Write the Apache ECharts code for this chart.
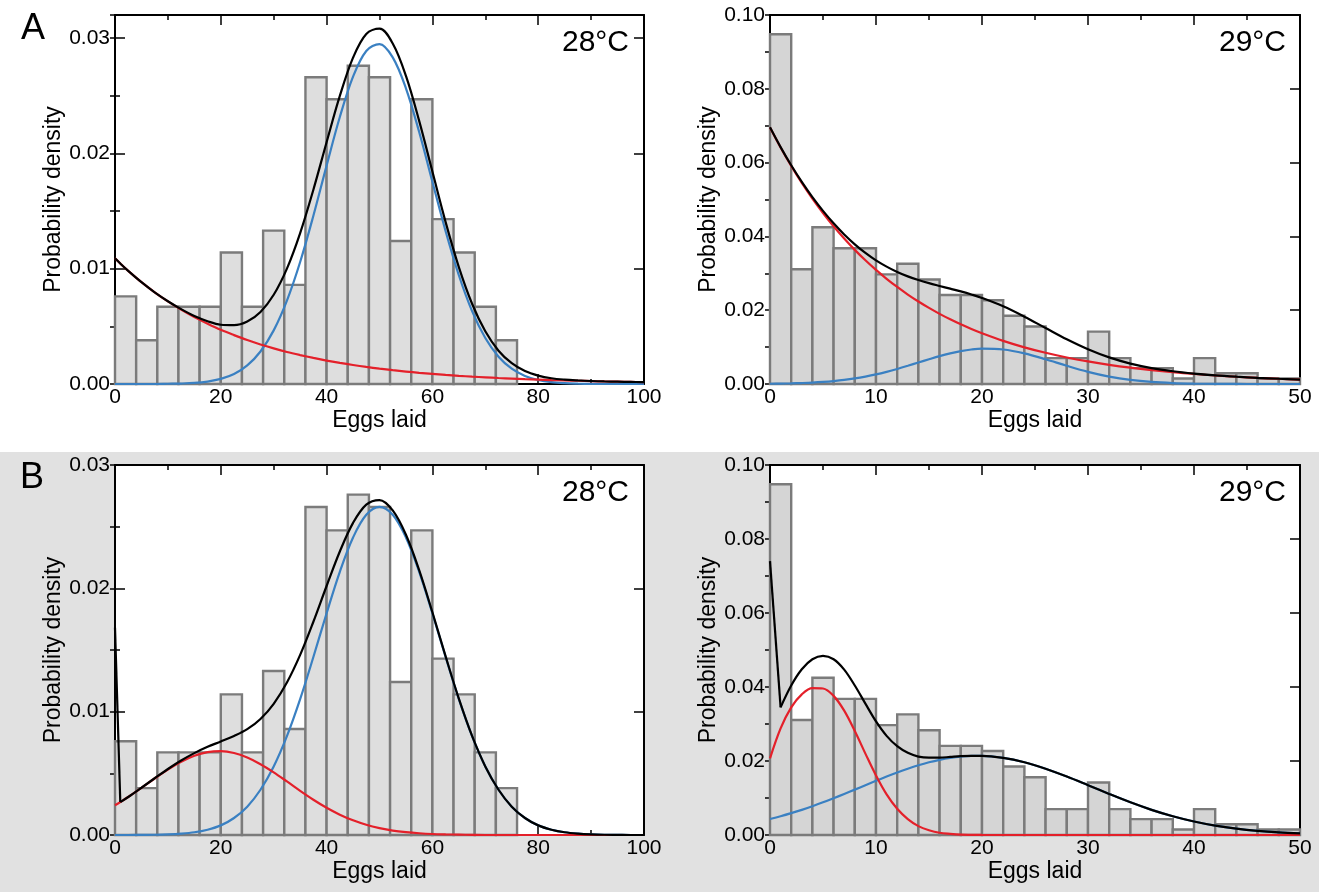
<!DOCTYPE html>
<html>
<head>
<meta charset="utf-8">
<script src="https://cdn.jsdelivr.net/npm/echarts@6/dist/echarts.min.js"></script>
<style>
html, body { margin: 0; padding: 0; background: #fff; }
#main { width: 1319px; height: 892px; }
</style>
</head>
<body>
<div id="main"></div>
<script>
// histogram at 28°C: left edge of each 4-egg bin and its density
var binStart28 = [0, 4, 8, 12, 16, 20, 24, 28, 32, 36, 40, 44, 48, 52, 56, 60, 64, 68, 72];
var binWidth28 = 4;
var density28 = [0.0076, 0.0038, 0.0067, 0.0067, 0.0067, 0.0114, 0.0067, 0.0133, 0.0086, 0.0266,
                 0.0247, 0.0276, 0.0266, 0.0124, 0.0247, 0.0143, 0.0114, 0.0067, 0.0038];

// histogram at 29°C: 2-egg bins
var binStart29 = [0, 2, 4, 6, 8, 10, 12, 14, 16, 18, 20, 22, 24, 26, 28, 30, 32, 34, 36, 38, 40, 42, 44, 46, 48];
var binWidth29 = 2;
var density29 = [0.0948, 0.0311, 0.0425, 0.0368, 0.0368, 0.0297, 0.0326, 0.0283, 0.0241, 0.0241,
                 0.0227, 0.0185, 0.0156, 0.0070, 0.0070, 0.0142, 0.0070, 0.0043, 0.0043, 0.0015,
                 0.0070, 0.0029, 0.0029, 0.0015, 0.0015];

// x positions where the fitted curves are read (28°C panels)
var eggs100 = [0, 1, 2.5, 5, 7.5, 10, 12.5, 15, 17.5, 20, 22.5, 25, 27.5, 30, 32.5, 35, 37.5, 40,
               42.5, 45, 47.5, 50, 52.5, 55, 57.5, 60, 62.5, 65, 67.5, 70, 72.5, 75, 77.5, 80,
               82.5, 85, 87.5, 90, 92.5, 95, 97.5, 100];

// A, 28°C
var a28Red = [0.01090, 0.01045, 0.00981, 0.00883, 0.00795, 0.00716, 0.00645, 0.00580, 0.00523, 0.00470,
              0.00424, 0.00381, 0.00343, 0.00309, 0.00278, 0.00251, 0.00226, 0.00203, 0.00183, 0.00165,
              0.00148, 0.00133, 0.00120, 0.00108, 0.00097, 0.00088, 0.00079, 0.00071, 0.00064, 0.00058,
              0.00052, 0.00047, 0.00042, 0.00038, 0.00034, 0.00031, 0.00028, 0.00025, 0.00022, 0.00020,
              0.00018, 0.00016];
var a28Blue = [0, 0, 0, 0, 0, 0.00002, 0.00004, 0.00009, 0.00021, 0.00044,
               0.00086, 0.00161, 0.00282, 0.00465, 0.00723, 0.01058, 0.01459, 0.01894, 0.02315, 0.02665,
               0.02888, 0.02948, 0.02833, 0.02564, 0.02185, 0.01754, 0.01325, 0.00943, 0.00632, 0.00399,
               0.00237, 0.00133, 0.00070, 0.00035, 0.00016, 0.00007, 0.00003, 0.00001, 0, 0,
               0, 0];
var a28Total = [0.01090, 0.01045, 0.00981, 0.00883, 0.00795, 0.00718, 0.00649, 0.00589, 0.00544, 0.00514,
                0.00510, 0.00542, 0.00625, 0.00774, 0.01001, 0.01309, 0.01685, 0.02097, 0.02498, 0.02830,
                0.03036, 0.03081, 0.02953, 0.02672, 0.02282, 0.01842, 0.01404, 0.01014, 0.00696, 0.00457,
                0.00289, 0.00180, 0.00112, 0.00073, 0.00050, 0.00038, 0.00031, 0.00026, 0.00022, 0.00020,
                0.00018, 0.00016];

// B, 28°C
var b28Red = [0.00241, 0.00267, 0.00308, 0.00382, 0.00458, 0.00530, 0.00593, 0.00642, 0.00672, 0.00680,
              0.00665, 0.00628, 0.00574, 0.00508, 0.00434, 0.00358, 0.00286, 0.00221, 0.00165, 0.00119,
              0.00083, 0.00056, 0.00036, 0.00023, 0.00014, 0.00008, 0.00005, 0.00003, 0.00001, 0,
              0, 0, 0, 0, 0, 0, 0, 0, 0, 0,
              0, 0];
var b28Blue = [0, 0, 0, 0.00001, 0.00002, 0.00005, 0.00011, 0.00022, 0.00043, 0.00078,
               0.00138, 0.00230, 0.00367, 0.00556, 0.00802, 0.01102, 0.01443, 0.01798, 0.02134, 0.02412,
               0.02596, 0.02660, 0.02596, 0.02412, 0.02134, 0.01798, 0.01443, 0.01102, 0.00802, 0.00556,
               0.00367, 0.00230, 0.00138, 0.00078, 0.00043, 0.00022, 0.00011, 0.00005, 0.00002, 0.00001,
               0, 0];
var b28Total = [0.01680, 0.00267, 0.00308, 0.00383, 0.00460, 0.00535, 0.00604, 0.00664, 0.00715, 0.00758,
                0.00803, 0.00858, 0.00941, 0.01064, 0.01236, 0.01460, 0.01729, 0.02019, 0.02299, 0.02531,
                0.02679, 0.02716, 0.02632, 0.02435, 0.02148, 0.01806, 0.01448, 0.01105, 0.00803, 0.00556,
                0.00367, 0.00230, 0.00138, 0.00078, 0.00043, 0.00022, 0.00011, 0.00005, 0.00002, 0.00001,
                0, 0];

// x positions for the 29°C panels
var eggs50 = [0, 1, 2, 3, 4, 5, 6, 7, 8, 9, 10, 11, 12, 13, 14, 15, 16, 17, 18, 19, 20,
              22, 24, 26, 28, 30, 32, 34, 36, 38, 40, 42, 44, 46, 48, 50];

// A, 29°C
var a29Red = [0.06950, 0.06409, 0.05910, 0.05450, 0.05026, 0.04635, 0.04274, 0.03942, 0.03635, 0.03352,
              0.03091, 0.02851, 0.02629, 0.02424, 0.02236, 0.02062, 0.01901, 0.01753, 0.01617, 0.01491,
              0.01375, 0.01169, 0.00994, 0.00846, 0.00719, 0.00612, 0.00520, 0.00442, 0.00376, 0.00320,
              0.00272, 0.00231, 0.00197, 0.00167, 0.00142, 0.00121];
var a29Blue = [0.00007, 0.00011, 0.00017, 0.00026, 0.00038, 0.00056, 0.00080, 0.00111, 0.00151, 0.00201,
               0.00260, 0.00330, 0.00408, 0.00493, 0.00582, 0.00671, 0.00756, 0.00830, 0.00892, 0.00935,
               0.00957, 0.00935, 0.00830, 0.00671, 0.00493, 0.00330, 0.00201, 0.00111, 0.00056, 0.00026,
               0.00011, 0.00004, 0.00001, 0, 0, 0];
var a29Total = [0.06957, 0.06420, 0.05927, 0.05476, 0.05064, 0.04691, 0.04354, 0.04053, 0.03786, 0.03553,
                0.03351, 0.03181, 0.03037, 0.02917, 0.02818, 0.02733, 0.02657, 0.02583, 0.02509, 0.02426,
                0.02332, 0.02104, 0.01824, 0.01517, 0.01212, 0.00942, 0.00721, 0.00553, 0.00432, 0.00346,
                0.00283, 0.00235, 0.00198, 0.00167, 0.00142, 0.00121];

// B, 29°C
var b29Red = [0.0207, 0.0288, 0.0345, 0.0380, 0.0397, 0.0396, 0.0376, 0.0336, 0.0281, 0.0220,
              0.0161, 0.0110, 0.0071, 0.0043, 0.0024, 0.0013, 0.0006, 0.0003, 0.0001, 0.00005,
              0.00002, 0, 0, 0, 0, 0, 0, 0, 0, 0,
              0, 0, 0, 0, 0, 0];
var b29Blue = [0.00432, 0.00507, 0.00590, 0.00680, 0.00779, 0.00883, 0.00994, 0.01109, 0.01226, 0.01346,
               0.01464, 0.01579, 0.01689, 0.01791, 0.01884, 0.01965, 0.02032, 0.02084, 0.02120, 0.02138,
               0.02138, 0.02084, 0.01965, 0.01791, 0.01579, 0.01346, 0.01109, 0.00883, 0.00680, 0.00507,
               0.00365, 0.00254, 0.00171, 0.00111, 0.00070, 0.00043];
var b29Total = [0.0740, 0.0345, 0.0404, 0.0448, 0.0475, 0.0484, 0.0475, 0.0447, 0.0404, 0.0355,
                0.0307, 0.0268, 0.0240, 0.0222, 0.0212, 0.0209, 0.0209, 0.0211, 0.0213, 0.0214,
                0.0214, 0.02084, 0.01965, 0.01791, 0.01579, 0.01346, 0.01109, 0.00883, 0.00680, 0.00507,
                0.00365, 0.00254, 0.00171, 0.00111, 0.00070, 0.00043];

var panels = [
    {temp: '28°C', bins: binStart28, bw: binWidth28, dens: density28, eggs: eggs100,
     red: a28Red, blue: a28Blue, total: a28Total, xMax: 100, xStep: 20, yMax: 0.032, yStep: 0.01, spike: false},
    {temp: '29°C', bins: binStart29, bw: binWidth29, dens: density29, eggs: eggs50,
     red: a29Red, blue: a29Blue, total: a29Total, xMax: 50, xStep: 10, yMax: 0.10, yStep: 0.02, spike: false},
    {temp: '28°C', bins: binStart28, bw: binWidth28, dens: density28, eggs: eggs100,
     red: b28Red, blue: b28Blue, total: b28Total, xMax: 100, xStep: 20, yMax: 0.03, yStep: 0.01, spike: true},
    {temp: '29°C', bins: binStart29, bw: binWidth29, dens: density29, eggs: eggs50,
     red: b29Red, blue: b29Blue, total: b29Total, xMax: 50, xStep: 10, yMax: 0.10, yStep: 0.02, spike: true}
];

// layout of the four plot boxes
var boxes = [
    {left: 115, top: 15, width: 529, height: 369, fill: '#dedede'},
    {left: 770, top: 15, width: 530, height: 369, fill: '#d5d5d5'},
    {left: 115, top: 465, width: 529, height: 370, fill: '#dedede'},
    {left: 770, top: 465, width: 530, height: 370, fill: '#d5d5d5'}
];

var FONT = '"Liberation Sans", Arial, sans-serif';
var RED = '#e4202a', BLUE = '#3a80c2';

function fmtY(v) {
    var k = Math.round(v * 100);
    return Math.abs(v * 100 - k) < 1e-6 ? v.toFixed(2) : '';
}
function pairs(xs, ys) {
    return xs.map(function (x, i) { return [x, ys[i]]; });
}

var grids = [], xAxes = [], yAxes = [], series = [];
var line = {color: '#000', width: 2};
var tick = {color: '#000', width: 1.5};

panels.forEach(function (p, g) {
    var b = boxes[g];
    grids.push({left: b.left, top: b.top, width: b.width, height: b.height,
                show: true, backgroundColor: '#fff', borderWidth: 0});

    ['bottom', 'top'].forEach(function (pos) {
        var ax = {
            gridIndex: g, type: 'value', min: 0, max: p.xMax, interval: p.xStep, position: pos,
            axisLine: {onZero: false, lineStyle: line},
            axisTick: {inside: true, length: 10, lineStyle: tick},
            minorTick: {show: true, splitNumber: 2, length: 5, lineStyle: tick},
            splitLine: {show: false}, minorSplitLine: {show: false},
            axisLabel: {show: false}
        };
        if (pos === 'bottom') {
            ax.axisLabel = {show: true, fontSize: 21, color: '#000', margin: 3, fontFamily: FONT};
            ax.name = 'Eggs laid';
            ax.nameLocation = 'middle';
            ax.nameGap = 22;
            ax.nameTextStyle = {fontSize: 23, color: '#000', fontFamily: FONT};
        }
        xAxes.push(ax);
    });

    ['left', 'right'].forEach(function (pos) {
        // major ticks
        var major = {
            gridIndex: g, type: 'value', min: 0, max: p.yMax, interval: p.yStep, position: pos,
            axisLine: {show: true, onZero: false, lineStyle: line},
            axisTick: {inside: true, length: 10, lineStyle: tick},
            splitLine: {show: false},
            axisLabel: {show: false}
        };
        if (pos === 'left') {
            major.axisLabel = {show: true, fontSize: 21, color: '#000', margin: 5, fontFamily: FONT, formatter: fmtY};
            major.name = 'Probability density';
            major.nameLocation = 'middle';
            major.nameGap = 50;
            major.nameRotate = 90;
            major.nameTextStyle = {fontSize: 23, color: '#000', fontFamily: FONT};
        }
        yAxes.push(major);
        // minor ticks, half a step
        yAxes.push({
            gridIndex: g, type: 'value', min: 0, max: p.yMax, interval: p.yStep / 2, position: pos,
            axisLine: {show: false},
            axisTick: {inside: true, length: 5, lineStyle: tick},
            splitLine: {show: false},
            axisLabel: {show: false}
        });
    });

    var xi = 2 * g, yi = 4 * g;

    series.push({
        type: 'custom', xAxisIndex: xi, yAxisIndex: yi, z: 1,
        data: p.bins.map(function (s, i) { return [s, s + p.bw, p.dens[i]]; }),
        encode: {x: [0, 1], y: 2},
        renderItem: function (params, api) {
            var a = api.coord([api.value(0), api.value(2)]);
            var c = api.coord([api.value(1), 0]);
            return {
                type: 'rect',
                shape: {x: a[0], y: a[1], width: c[0] - a[0], height: c[1] - a[1]},
                style: {fill: b.fill, stroke: '#7b7b7b', lineWidth: 2.4}
            };
        }
    });

    function curve(ys, color, z) {
        return {type: 'line', xAxisIndex: xi, yAxisIndex: yi, z: z, data: pairs(p.eggs, ys),
                symbol: 'none', smooth: 0.35, lineStyle: {color: color, width: 2.2}};
    }
    series.push(curve(p.blue, BLUE, 3));
    series.push(curve(p.red, RED, 4));
    if (p.spike) {
        // the total jumps at zero eggs, drawn as a straight segment
        series.push({type: 'line', xAxisIndex: xi, yAxisIndex: yi, z: 5,
                     data: pairs(p.eggs.slice(0, 2), p.total.slice(0, 2)),
                     symbol: 'none', smooth: false, lineStyle: {color: '#000', width: 2.2}});
        series.push({type: 'line', xAxisIndex: xi, yAxisIndex: yi, z: 5,
                     data: pairs(p.eggs.slice(1), p.total.slice(1)),
                     symbol: 'none', smooth: 0.35, lineStyle: {color: '#000', width: 2.2}});
    } else {
        series.push(curve(p.total, '#000', 5));
    }
});

function label(text, x, y, size, align) {
    return {type: 'text', x: x, y: y, z: 100,
            style: {text: text, font: size + 'px ' + FONT, fill: '#000',
                    align: align, textAlign: align, verticalAlign: 'middle', textVerticalAlign: 'middle'}};
}

var option = {
    animation: false,
    backgroundColor: 'transparent',
    grid: grids,
    xAxis: xAxes,
    yAxis: yAxes,
    series: series,
    graphic: {elements: [
        {type: 'rect', z: -10, silent: true, shape: {x: 0, y: 452, width: 1319, height: 440}, style: {fill: '#e1e1e1'}},
        label('A', 21, 29, 36, 'left'),
        label('B', 20, 478, 36, 'left'),
        label(panels[0].temp, 629, 43, 30, 'right'),
        label(panels[1].temp, 1286, 43, 30, 'right'),
        label(panels[2].temp, 629, 493, 30, 'right'),
        label(panels[3].temp, 1286, 493, 30, 'right')
    ]}
};

var chart = echarts.init(document.getElementById('main'));
chart.setOption(option);
</script>
</body>
</html>
